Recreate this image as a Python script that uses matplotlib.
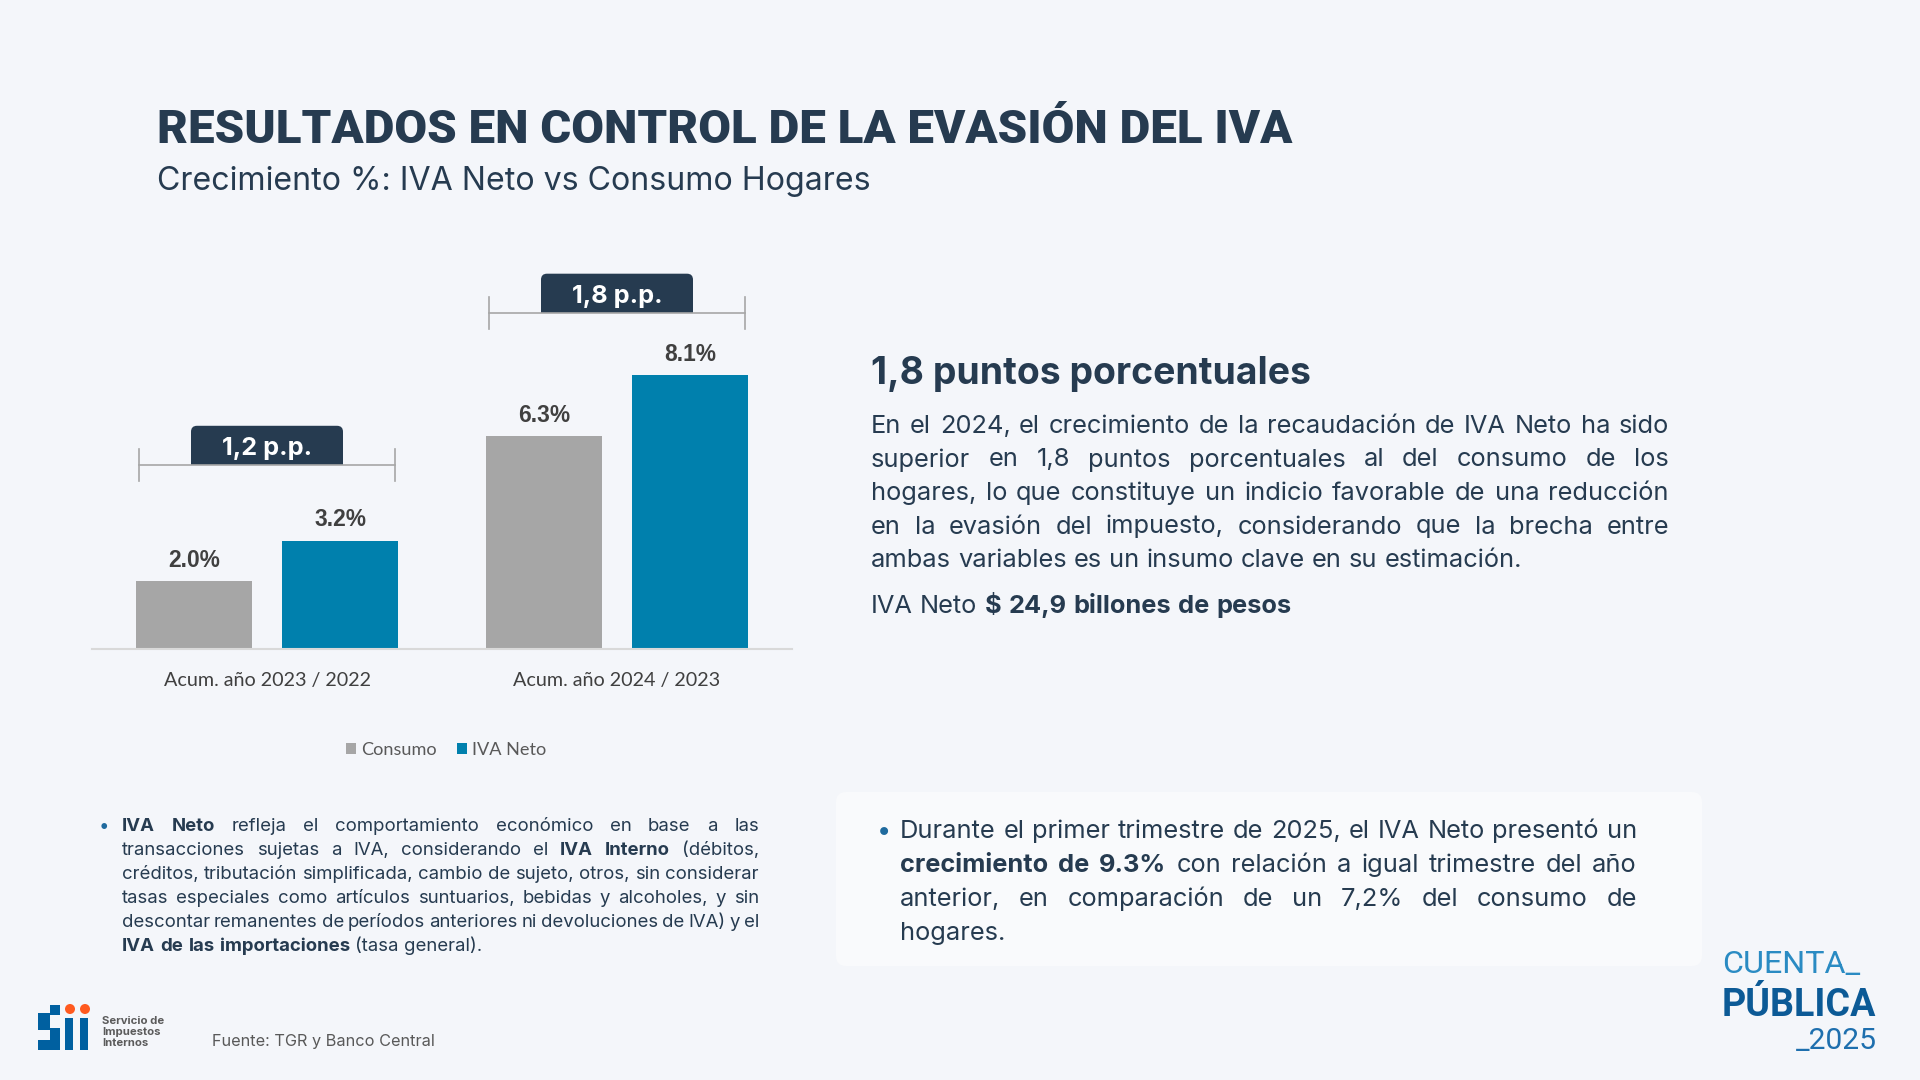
import numpy as np
import matplotlib
matplotlib.use("Agg")
import matplotlib.pyplot as plt
from matplotlib import font_manager
from matplotlib.patches import FancyBboxPatch, Rectangle, Circle

# ---- data ---------------------------------------------------------------
categories = ["Acum. año 2023 / 2022", "Acum. año 2024 / 2023"]
series_names = ["Consumo", "IVA Neto"]
consumo = [2.0, 6.3]
iva_neto = [3.2, 8.1]
gap_labels = ["1,2 p.p.", "1,8 p.p."]

title = "RESULTADOS EN CONTROL DE LA EVASIÓN DEL IVA"
subtitle = "Crecimiento %: IVA Neto vs Consumo Hogares"
headline = "1,8 puntos porcentuales"
par_right = [
    "En el 2024, el crecimiento de la recaudación de IVA Neto ha sido",
    "superior en 1,8 puntos porcentuales al del consumo de los",
    "hogares, lo que constituye un indicio favorable de una reducción",
    "en la evasión del impuesto, considerando que la brecha entre",
    "ambas variables es un insumo clave en su estimación.",
]
total_line = "IVA Neto **$ 24,9 billones de pesos**"
par_note = [
    "**IVA Neto** refleja el comportamiento económico en base a las",
    "transacciones sujetas a IVA, considerando el **IVA Interno** (débitos,",
    "créditos, tributación simplificada, cambio de sujeto, otros, sin considerar",
    "tasas especiales como artículos suntuarios, bebidas y alcoholes,  y sin",
    "descontar remanentes de períodos anteriores ni devoluciones de IVA) y el",
    "**IVA de las importaciones** (tasa general).",
]
par_box = [
    "Durante el primer trimestre de 2025, el IVA Neto presentó un",
    "**crecimiento de 9.3%** con relación a igual trimestre del año",
    "anterior, en comparación de un 7,2% del consumo de",
    "hogares.",
]
source = "Fuente: TGR y Banco Central"

# ---- style --------------------------------------------------------------
BG = "#F4F6FA"
NAVY = "#263B50"
GRAY = "#A6A6A6"
BLUE = "#0080AD"
CAT = "Lato"

fonts = font_manager.fontManager.ttflist


def has_bold(name):
    return any(f.name == name and (f.weight in ("bold", "heavy", "black", "extra bold", "semibold")
                                   or (isinstance(f.weight, int) and f.weight >= 600))
               for f in fonts)


BODY = next((n for n in ["Noto Sans", "Inter", "Open Sans", "Roboto", "DejaVu Sans"]
             if has_bold(n)), "DejaVu Sans")
installed = {f.name for f in fonts}
NARROW = "Liberation Sans Narrow" if "Liberation Sans Narrow" in installed else "Roboto"
TITLE_W = "bold" if NARROW == "Liberation Sans Narrow" else "black"

BAR_W = 0.331
OFF = 0.209
BRACKET_Y = [5.45, 9.95]

fig = plt.figure(figsize=(19.2, 10.8), dpi=100, facecolor=BG)
bg = fig.add_axes([0, 0, 1, 1])
bg.set_xlim(0, 1920)
bg.set_ylim(1080, 0)
bg.axis("off")
R = fig.canvas.get_renderer()


def text_width(s, size, weight="normal", family=BODY):
    t = bg.text(0, 0, s, fontsize=size, fontweight=weight, family=family)
    w = t.get_window_extent(renderer=R).width
    t.remove()
    return w


def fit(s, width, weight="normal", family=BODY):
    return 10 * width / text_width(s, 10, weight, family)


def parse(line):
    runs = []
    for i, seg in enumerate(line.split("**")):
        for w in seg.split():
            runs.append((w, "bold" if i % 2 else "normal"))
    return runs


def paragraph(lines, x0, x1, y0, dy, size, color=NAVY, family=BODY):
    space = text_width("a a", size, family=family) - text_width("aa", size, family=family)
    for i, line in enumerate(lines):
        runs = parse(line)
        ws = [text_width(w, size, wt, family) for w, wt in runs]
        just = i < len(lines) - 1 and len(runs) > 1
        gap = (x1 - x0 - sum(ws)) / (len(runs) - 1) if just else space
        x = x0
        for (w, wt), wd in zip(runs, ws):
            bg.text(x, y0 + i * dy, w, fontsize=size, fontweight=wt,
                    family=family, color=color, va="baseline", ha="left")
            x += wd + gap


# ---- header -------------------------------------------------------------
bg.text(157, 143, title, fontsize=fit(title, 1133, TITLE_W, NARROW),
        fontweight=TITLE_W, family=NARROW, color=NAVY, va="baseline")
bg.text(157, 190, subtitle, fontsize=fit(subtitle, 716), family=BODY,
        color=NAVY, va="baseline")

# ---- chart --------------------------------------------------------------
ax = fig.add_axes([92 / 1920, 431 / 1080, 700 / 1920, 405.6 / 1080])
ax.set_facecolor("none")
x = np.arange(len(categories))
b1 = ax.bar(x - OFF, consumo, BAR_W, color=GRAY, label=series_names[0])
b2 = ax.bar(x + OFF, iva_neto, BAR_W, color=BLUE, label=series_names[1])
ax.set_xlim(-0.5, 1.5)
ax.set_ylim(0, 12)
ax.set_yticks([])
for s in ("top", "left", "right"):
    ax.spines[s].set_visible(False)
ax.spines["bottom"].set_color("#D9D9D9")
ax.spines["bottom"].set_linewidth(1.5)

val_size = fit("2.0%", 52, "bold", "Liberation Sans")
for xs, vals in ((x - OFF, consumo), (x + OFF, iva_neto)):
    for xi, v in zip(xs, vals):
        ax.annotate(f"{v:.1f}%", (xi, v), xytext=(0, 10.4), textcoords="offset points",
                    ha="center", va="baseline", fontsize=val_size, fontweight="bold",
                    family="Liberation Sans", color="#404040")

cat_size = fit(categories[0], 207, family=CAT)
ax.set_xticks(x, categories, fontsize=cat_size, family=CAT, color="#404040")
ax.tick_params(axis="x", length=0, pad=26.6)
for lab in ax.get_xticklabels():
    lab.set_va("baseline")

leg_size = fit("Consumo", 76, family=CAT)
ax.legend([b1, b2], series_names, loc="center", bbox_to_anchor=(446 / 1920, 1 - 750 / 1080),
          bbox_transform=fig.transFigure, ncol=2, frameon=False, handlelength=0.55,
          handleheight=0.55, handletextpad=0.3, columnspacing=1.1,
          prop={"family": CAT, "size": leg_size}, labelcolor="#595959")


def to_px(xd, yd):
    d = ax.transData.transform((xd, yd))
    return d[0], 1080 - d[1]


box_size = fit(gap_labels[0], 90, "bold")
for i, lab in enumerate(gap_labels):
    xl, by = to_px(i - 0.365, BRACKET_Y[i])
    xr, _ = to_px(i + 0.365, BRACKET_Y[i])
    cx = (xl + xr) / 2
    bg.plot([xl, xr], [by, by], color=GRAY, lw=1.2)
    bg.plot([xl, xl], [by - 16, by + 16], color=GRAY, lw=1.2)
    bg.plot([xr, xr], [by - 16, by + 16], color=GRAY, lw=1.2)
    bg.add_patch(FancyBboxPatch((cx - 76, by - 39), 152, 39,
                                boxstyle="round,pad=0,rounding_size=6", fc=NAVY, ec="none"))
    bg.add_patch(Rectangle((cx - 76, by - 10), 152, 10, fc=NAVY, ec="none"))
    bg.text(cx, by - 9.5, lab, fontsize=box_size, fontweight="bold", family=BODY,
            color="white", ha="center", va="baseline")

# ---- right text ---------------------------------------------------------
bg.text(871, 384, headline, fontsize=fit(headline, 439, "bold"), fontweight="bold",
        family=BODY, color=NAVY, va="baseline")
par_size = fit(par_right[-1], 655)
paragraph(par_right, 871, 1669, 433, 33.5, par_size)
paragraph([total_line], 871, 1669, 613, 0, par_size)

# ---- bottom notes -------------------------------------------------------
note_size = fit("IVA de las importaciones (tasa general).", 352)
bg.text(99, 831, "•", fontsize=note_size, color="#1F6A9E", family=BODY, va="baseline")
paragraph(par_note, 122, 759, 831, 24, note_size)

bg.add_patch(FancyBboxPatch((836, 792), 866, 174, boxstyle="round,pad=0,rounding_size=10",
                            fc="#F9FAFC", ec="none"))
bg.text(877, 838, "•", fontsize=par_size, color="#1F6A9E", family=BODY, va="baseline")
paragraph(par_box, 900, 1637, 838, 34, par_size)

# ---- footer / logos -----------------------------------------------------
bg.text(212, 1046, source, fontsize=fit(source, 223), family=BODY, color="#595959",
        va="baseline")

LOGO_BLUE = "#0060A0"
for (lx, ly, lw_, lh) in [(50, 1005, 10, 10), (38, 1013, 12, 17), (50, 1028, 10, 22),
                          (38, 1040, 12, 10), (65, 1018, 8, 32), (80, 1018, 8, 32)]:
    bg.add_patch(Rectangle((lx, ly), lw_, lh, fc=LOGO_BLUE, ec="none"))
for cxd in (70, 85):
    bg.add_patch(Circle((cxd, 1009), 5, fc="#FF5A1F", ec="none"))
sii_size = fit("Servicio de", 62, "bold")
for j, t in enumerate(["Servicio de", "Impuestos", "Internos"]):
    bg.text(102, 1024 + j * 11, t, fontsize=sii_size, fontweight="bold", family=BODY,
            color="#5B5B5B", va="baseline")

bg.text(1722, 973, "CUENTA_", fontsize=fit("CUENTA_", 138, family=NARROW),
        family=NARROW, color="#2A8BC3", va="baseline")
bg.text(1722, 1016, "PÚBLICA", fontsize=fit("PÚBLICA", 154, "bold", NARROW),
        fontweight="bold", family=NARROW, color="#0C5A96", va="baseline")
bg.text(1796, 1049, "_2025", fontsize=fit("_2025", 81, family=NARROW),
        family=NARROW, color="#1E6FAE", va="baseline")

fig.savefig("out.png", dpi=100, facecolor=BG)
